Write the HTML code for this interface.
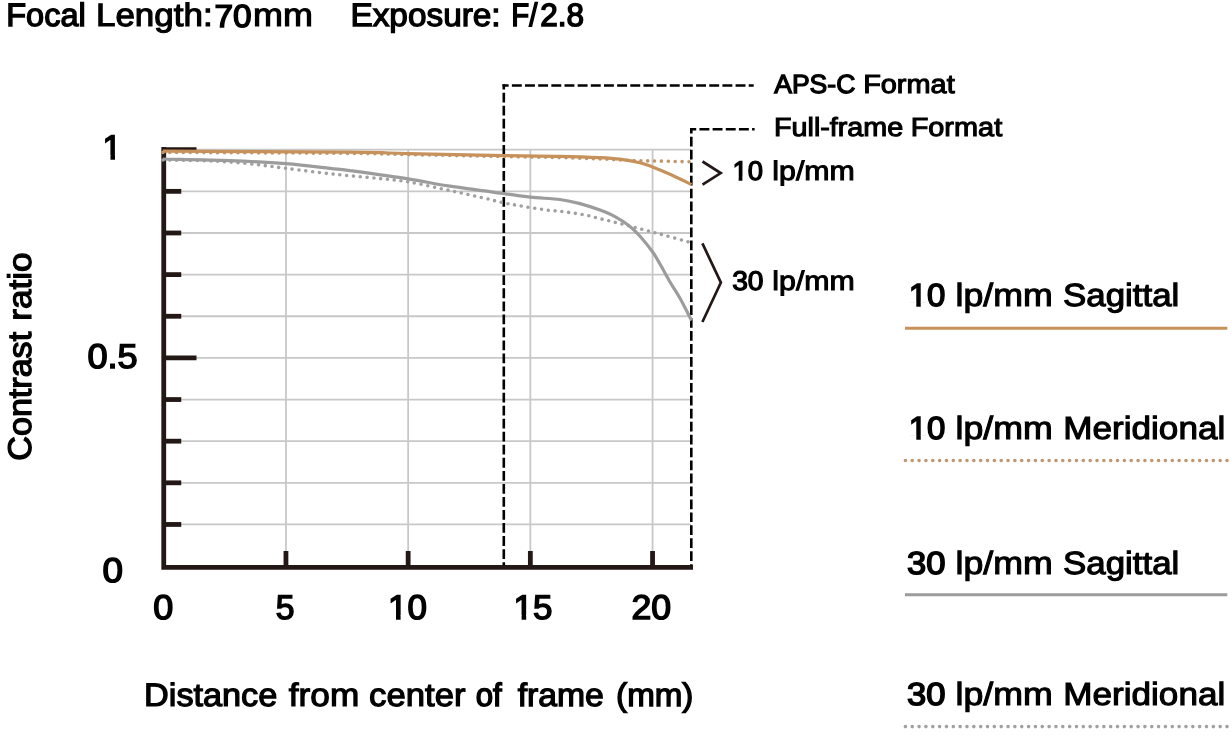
<!DOCTYPE html>
<html lang="en"><head><meta charset="utf-8"><title>MTF chart</title>
<style>
html,body{margin:0;padding:0;background:#fff;}
body{width:1232px;height:736px;overflow:hidden;}
svg{display:block;}
text{font-family:"Liberation Sans",Arial,Helvetica,sans-serif;fill:#000;stroke:#000;stroke-linejoin:miter;text-rendering:geometricPrecision;}
.b{font-weight:bold;}
</style></head><body>
<svg width="1232" height="736" viewBox="0 0 1232 736">
<rect width="1232" height="736" fill="#fff"/>
<g stroke="#c8c8c8" stroke-width="1.8" fill="none">
<line x1="166" y1="524.46" x2="691" y2="524.46"/>
<line x1="166" y1="482.82" x2="691" y2="482.82"/>
<line x1="166" y1="441.18" x2="691" y2="441.18"/>
<line x1="166" y1="399.54" x2="691" y2="399.54"/>
<line x1="166" y1="357.90" x2="691" y2="357.90"/>
<line x1="166" y1="316.26" x2="691" y2="316.26"/>
<line x1="166" y1="274.62" x2="691" y2="274.62"/>
<line x1="166" y1="232.98" x2="691" y2="232.98"/>
<line x1="166" y1="191.34" x2="691" y2="191.34"/>
<line x1="166" y1="149.70" x2="691" y2="149.70"/>
<line x1="285.95" y1="148.90" x2="285.95" y2="566"/>
<line x1="408.15" y1="148.90" x2="408.15" y2="566"/>
<line x1="530.35" y1="148.90" x2="530.35" y2="566"/>
<line x1="652.55" y1="148.90" x2="652.55" y2="566"/>
</g>
<g stroke="#231815" fill="none" stroke-width="4.8">
<path d="M163.75 146.9V567.4H693"/>
<line x1="163.75" y1="524.46" x2="181.25" y2="524.46"/>
<line x1="163.75" y1="482.82" x2="181.25" y2="482.82"/>
<line x1="163.75" y1="441.18" x2="181.25" y2="441.18"/>
<line x1="163.75" y1="399.54" x2="181.25" y2="399.54"/>
<line x1="163.75" y1="357.90" x2="196.5" y2="357.90"/>
<line x1="163.75" y1="316.26" x2="181.25" y2="316.26"/>
<line x1="163.75" y1="274.62" x2="181.25" y2="274.62"/>
<line x1="163.75" y1="232.98" x2="181.25" y2="232.98"/>
<line x1="163.75" y1="191.34" x2="181.25" y2="191.34"/>
<line x1="163.75" y1="149.70" x2="196.5" y2="149.70"/>
<line x1="285.95" y1="551" x2="285.95" y2="567"/>
<line x1="408.15" y1="551" x2="408.15" y2="567"/>
<line x1="530.35" y1="551" x2="530.35" y2="567"/>
<line x1="652.55" y1="551" x2="652.55" y2="567"/>
</g>
<g stroke="#000" stroke-width="2.6" fill="none">
<path d="M502.5 85.5H753.7" stroke-dasharray="9.9 3.26" stroke-dashoffset="3.8"/>
<path d="M503.8 84.2V565.2" stroke-dasharray="9.8 3.24" stroke-dashoffset="4.5"/>
<path d="M690.1 129.3H754.6" stroke-dasharray="9.9 3.26" stroke-dashoffset="3.8"/>
<path d="M691.3 128V565.2" stroke-dasharray="9.7 3.25" stroke-dashoffset="4.1"/>
</g>
<path d="M163.0 160.0C169.2 160.1 188.8 160.3 200.0 160.6C211.2 160.9 220.0 161.3 230.0 162.0C240.0 162.7 250.7 163.9 260.0 165.0C269.3 166.1 273.2 166.8 285.8 168.3C298.2 169.9 319.3 172.6 335.0 174.3C350.7 176.0 367.8 177.3 380.0 178.6C392.2 179.8 396.3 179.8 408.0 181.8C419.7 183.8 438.0 188.0 450.0 190.6C462.0 193.2 471.0 195.1 480.0 197.2C489.0 199.2 496.7 201.3 504.0 202.9C511.3 204.5 517.2 205.3 524.0 206.5C530.8 207.7 538.2 208.9 545.0 209.8C551.8 210.7 558.3 211.0 565.0 211.9C571.7 212.8 578.3 213.7 585.0 215.0C591.7 216.3 598.3 218.3 605.0 219.9C611.7 221.5 618.3 223.1 625.0 224.8C631.7 226.5 638.3 228.3 645.0 230.1C651.7 231.9 657.3 233.3 665.0 235.4C672.7 237.5 686.7 241.5 691.0 242.7" fill="none" stroke="#a0a0a0" stroke-width="3.6" stroke-linecap="round" stroke-dasharray="0 6.83"/>
<path d="M163.0 159.0C174.2 159.3 209.5 159.8 230.0 160.6C250.5 161.4 269.1 162.3 285.8 163.6C302.4 164.9 319.3 167.1 330.0 168.3C340.7 169.5 337.0 168.8 350.0 170.6C363.0 172.4 391.3 176.3 408.0 178.9C424.7 181.5 434.0 183.8 450.0 186.2C466.0 188.6 490.6 191.8 504.0 193.6C517.4 195.4 521.2 196.2 530.5 197.2C539.8 198.2 551.8 198.4 560.0 199.5C568.2 200.6 573.3 201.8 580.0 203.6C586.7 205.4 594.2 207.9 600.0 210.1C605.8 212.3 610.0 213.9 615.0 216.6C620.0 219.3 625.8 223.1 630.0 226.4C634.2 229.7 636.2 232.0 640.0 236.2C643.8 240.4 649.2 247.2 652.5 251.8C655.8 256.4 657.1 259.0 660.0 264.0C662.9 269.0 666.7 276.3 670.0 282.0C673.3 287.7 676.4 291.9 680.0 298.3C683.6 304.7 689.6 316.8 691.5 320.5" fill="none" stroke="#9c9c9c" stroke-width="3.2"/>
<path d="M163.0 152.4C194.2 152.6 309.2 153.0 350.0 153.4C390.8 153.8 382.3 154.1 408.0 154.6C433.7 155.1 478.7 156.1 504.0 156.6C529.3 157.1 544.0 157.2 560.0 157.6C576.0 158.0 590.0 158.6 600.0 159.0C610.0 159.4 613.3 159.6 620.0 159.9C626.7 160.2 628.2 160.4 640.0 160.7C651.8 161.0 682.5 161.6 691.0 161.8" fill="none" stroke="#c1966c" stroke-width="3.6" stroke-linecap="round" stroke-dasharray="0 6.83"/>
<path d="M163.0 151.2C194.2 151.4 309.2 151.8 350.0 152.2C390.8 152.6 382.3 153.0 408.0 153.6C433.7 154.2 478.7 155.1 504.0 155.6C529.3 156.1 544.0 156.0 560.0 156.3C576.0 156.6 590.0 157.1 600.0 157.6C610.0 158.1 613.3 158.3 620.0 159.2C626.7 160.1 634.6 161.5 640.0 162.8C645.4 164.1 647.5 165.0 652.5 166.9C657.5 168.8 663.5 171.3 670.0 174.2C676.5 177.1 687.9 182.8 691.5 184.5" fill="none" stroke="#c7915b" stroke-width="3.2"/>
<g stroke="#231815" stroke-width="2.7" fill="none" stroke-linejoin="miter">
<path d="M702.5 161.5L720.7 173.1L702.5 184.6"/>
<path d="M702.4 243.4L720.9 282.6L702.4 322"/>
</g>
<line x1="905" y1="328.35" x2="1227.3" y2="328.35" stroke="#c7915b" stroke-width="3"/>
<line x1="905.4" y1="460.5" x2="1227.5" y2="460.5" stroke="#c1966c" stroke-width="3.6" stroke-linecap="round" stroke-dasharray="0 6.843"/>
<line x1="905" y1="594.7" x2="1227.3" y2="594.7" stroke="#9c9c9c" stroke-width="3"/>
<line x1="905.4" y1="726.6" x2="1227.5" y2="726.6" stroke="#a0a0a0" stroke-width="3.6" stroke-linecap="round" stroke-dasharray="0 6.843"/>
<text><tspan x="6.27" y="26" font-size="32.4" stroke-width="1.38" textLength="79.46" lengthAdjust="spacingAndGlyphs">Focal</tspan> <tspan x="95.96" y="26" font-size="32.4" stroke-width="1.16" textLength="116.65" lengthAdjust="spacingAndGlyphs">Length:</tspan><tspan x="214.53" y="27" font-size="31.8" stroke-width="1.5" textLength="37.22" lengthAdjust="spacingAndGlyphs">70</tspan><tspan x="253.05" y="26" font-size="32.4" stroke-width="1.08" textLength="59.88" lengthAdjust="spacingAndGlyphs">mm</tspan> <tspan x="350.41" y="26" font-size="32.4" stroke-width="1.3" textLength="150.23" lengthAdjust="spacingAndGlyphs">Exposure:</tspan> <tspan x="511.34" y="26" font-size="32.4" stroke-width="1.5" textLength="26.11" lengthAdjust="spacingAndGlyphs">F/</tspan><tspan x="540.37" y="26" font-size="32.4" stroke-width="1.5" textLength="43.75" lengthAdjust="spacingAndGlyphs">2.8</tspan></text>
<text><tspan x="774.19" y="93" font-size="26.2" stroke-width="1.28" textLength="81.18" lengthAdjust="spacingAndGlyphs">APS-C</tspan> <tspan x="863.17" y="93" font-size="26.2" stroke-width="1.08" textLength="91.50" lengthAdjust="spacingAndGlyphs">Format</tspan></text>
<text><tspan x="773.99" y="136" font-size="26.2" stroke-width="1.09" textLength="129.24" lengthAdjust="spacingAndGlyphs">Full-frame</tspan> <tspan x="910.67" y="136" font-size="26.2" stroke-width="1.08" textLength="91.50" lengthAdjust="spacingAndGlyphs">Format</tspan></text>
<text><tspan x="732.40" y="180" font-size="26.9" stroke-width="1.3" textLength="30.52" lengthAdjust="spacingAndGlyphs">10</tspan> <tspan x="772.37" y="180" font-size="26.9" stroke-width="1.02" textLength="82.52" lengthAdjust="spacingAndGlyphs">lp/mm</tspan></text>
<path fill="#fff" d="M733.04 176.74H738.65V181.45H733.04ZM742.38 176.74H747.77V181.45H742.38Z"/>
<text><tspan x="732.18" y="290" font-size="26.9" stroke-width="1.3" textLength="31.38" lengthAdjust="spacingAndGlyphs">30</tspan> <tspan x="772.37" y="290" font-size="26.9" stroke-width="1.02" textLength="82.52" lengthAdjust="spacingAndGlyphs">lp/mm</tspan></text>
<text><tspan x="908.78" y="306" font-size="32.0" stroke-width="1.5" textLength="36.66" lengthAdjust="spacingAndGlyphs">10</tspan> <tspan x="955.52" y="306" font-size="32.0" stroke-width="1.06" textLength="97.20" lengthAdjust="spacingAndGlyphs">lp/mm</tspan> <tspan x="1063.08" y="306" font-size="32.0" stroke-width="1.13" textLength="116.29" lengthAdjust="spacingAndGlyphs">Sagittal</tspan></text>
<path fill="#fff" d="M909.74 302.26H916.31V307.55H909.74ZM920.73 302.26H927.05V307.55H920.73Z"/>
<text><tspan x="908.78" y="439" font-size="32.0" stroke-width="1.5" textLength="36.66" lengthAdjust="spacingAndGlyphs">10</tspan> <tspan x="955.52" y="439" font-size="32.0" stroke-width="1.06" textLength="97.20" lengthAdjust="spacingAndGlyphs">lp/mm</tspan> <tspan x="1063.38" y="439" font-size="32.0" stroke-width="1.11" textLength="161.81" lengthAdjust="spacingAndGlyphs">Meridional</tspan></text>
<path fill="#fff" d="M909.74 435.26H916.31V440.55H909.74ZM920.73 435.26H927.05V440.55H920.73Z"/>
<text><tspan x="907.03" y="574" font-size="32.0" stroke-width="1.5" textLength="38.47" lengthAdjust="spacingAndGlyphs">30</tspan> <tspan x="955.52" y="574" font-size="32.0" stroke-width="1.06" textLength="97.20" lengthAdjust="spacingAndGlyphs">lp/mm</tspan> <tspan x="1063.08" y="574" font-size="32.0" stroke-width="1.13" textLength="116.29" lengthAdjust="spacingAndGlyphs">Sagittal</tspan></text>
<text><tspan x="907.03" y="705" font-size="32.0" stroke-width="1.5" textLength="38.47" lengthAdjust="spacingAndGlyphs">30</tspan> <tspan x="955.52" y="705" font-size="32.0" stroke-width="1.06" textLength="97.20" lengthAdjust="spacingAndGlyphs">lp/mm</tspan> <tspan x="1063.38" y="705" font-size="32.0" stroke-width="1.11" textLength="161.81" lengthAdjust="spacingAndGlyphs">Meridional</tspan></text>
<text><tspan x="102.59" y="159" font-size="34.3" stroke-width="1.5" textLength="19.08" lengthAdjust="spacingAndGlyphs">1</tspan></text>
<path fill="#fff" d="M103.66 155.09H110.47V160.55H103.66ZM115.00 155.09H121.54V160.55H115.00Z"/>
<text><tspan x="87.44" y="368" font-size="34.3" stroke-width="1.5" textLength="50.23" lengthAdjust="spacingAndGlyphs">0.5</tspan></text>
<text><tspan x="102.51" y="582" font-size="34.3" stroke-width="1.5" textLength="20.48" lengthAdjust="spacingAndGlyphs">0</tspan></text>
<text><tspan x="153.24" y="619" font-size="34.3" stroke-width="1.5" textLength="20.01" lengthAdjust="spacingAndGlyphs">0</tspan></text>
<text><tspan x="275.65" y="619" font-size="34.3" stroke-width="1.5" textLength="18.77" lengthAdjust="spacingAndGlyphs">5</tspan></text>
<text><tspan x="387.95" y="619" font-size="34.3" stroke-width="1.5" textLength="38.92" lengthAdjust="spacingAndGlyphs">10</tspan></text>
<path fill="#fff" d="M389.07 615.09H396.00V620.55H389.07ZM400.59 615.09H407.25V620.55H400.59Z"/>
<text><tspan x="513.55" y="619" font-size="34.3" stroke-width="1.5" textLength="38.92" lengthAdjust="spacingAndGlyphs">15</tspan></text>
<path fill="#fff" d="M514.67 615.09H521.60V620.55H514.67ZM526.19 615.09H532.85V620.55H526.19Z"/>
<text><tspan x="631.46" y="619" font-size="34.3" stroke-width="1.5" textLength="39.69" lengthAdjust="spacingAndGlyphs">20</tspan></text>
<text><tspan x="144.06" y="706" font-size="32.4" stroke-width="1.23" textLength="133.25" lengthAdjust="spacingAndGlyphs">Distance</tspan> <tspan x="288.82" y="706" font-size="32.4" stroke-width="1.14" textLength="70.43" lengthAdjust="spacingAndGlyphs">from</tspan> <tspan x="369.12" y="706" font-size="32.4" stroke-width="1.19" textLength="96.36" lengthAdjust="spacingAndGlyphs">center</tspan> <tspan x="475.68" y="706" font-size="32.4" stroke-width="1.49" textLength="26.02" lengthAdjust="spacingAndGlyphs">of</tspan> <tspan x="517.66" y="706" font-size="32.4" stroke-width="1.27" textLength="86.21" lengthAdjust="spacingAndGlyphs">frame</tspan> <tspan x="616.10" y="706" font-size="32.4" stroke-width="1.32" textLength="77.29" lengthAdjust="spacingAndGlyphs">(mm)</tspan></text>
<g transform="translate(30.5 0) rotate(-90)">
<text><tspan x="-460.69" y="0" font-size="32.8" stroke-width="1.28" textLength="128.80" lengthAdjust="spacingAndGlyphs">Contrast</tspan> <tspan x="-320.74" y="0" font-size="32.8" stroke-width="1.19" textLength="68.32" lengthAdjust="spacingAndGlyphs">ratio</tspan></text>
</g>
</svg></body></html>
